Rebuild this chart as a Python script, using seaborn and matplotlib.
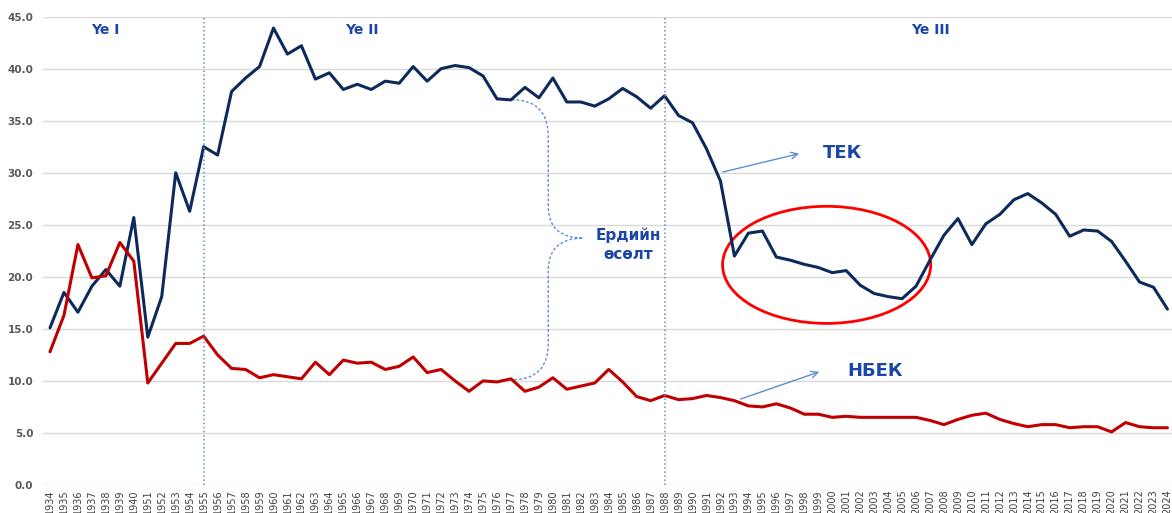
import matplotlib
matplotlib.use("Agg")
import matplotlib.pyplot as plt
import matplotlib.patches as mpatches
from matplotlib.path import Path
import pandas as pd
import seaborn as sns

sns.set_theme(style="white")
plt.rcParams["font.family"] = ["DejaVu Sans"]

# ---------------------------------------------------------------------------
# data
# ---------------------------------------------------------------------------
years = [str(y) for y in range(1934, 1941)] + [str(y) for y in range(1951, 2025)]

tek = [
    15.1, 18.5, 16.6, 19.1, 20.7, 19.1, 25.7,
    14.2, 18.1, 30.0, 26.3, 32.5, 31.7, 37.8, 39.1, 40.2, 43.9, 41.4, 42.2, 39.0,
    39.6, 38.0, 38.5, 38.0, 38.8, 38.6, 40.2, 38.8, 40.0, 40.3, 40.1, 39.3, 37.1,
    37.0, 38.2, 37.2, 39.1, 36.8, 36.8, 36.4, 37.1, 38.1, 37.3, 36.2, 37.4, 35.5,
    34.8, 32.3, 29.2, 22.0, 24.2, 24.4, 21.9, 21.6, 21.2, 20.9, 20.4, 20.6, 19.2,
    18.4, 18.1, 17.9, 19.1, 21.6, 24.0, 25.6, 23.1, 25.1, 26.0, 27.4, 28.0, 27.1,
    26.0, 23.9, 24.5, 24.4, 23.4, 21.5, 19.5, 19.0, 16.9,
]

nbek = [
    12.8, 16.3, 23.1, 19.9, 20.1, 23.3, 21.5,
    9.8, 11.7, 13.6, 13.6, 14.3, 12.5, 11.2, 11.1, 10.3, 10.6, 10.4, 10.2, 11.8,
    10.6, 12.0, 11.7, 11.8, 11.1, 11.4, 12.3, 10.8, 11.1, 10.0, 9.0, 10.0, 9.9,
    10.2, 9.0, 9.4, 10.3, 9.2, 9.5, 9.8, 11.1, 9.9, 8.5, 8.1, 8.6, 8.2,
    8.3, 8.6, 8.4, 8.1, 7.6, 7.5, 7.8, 7.4, 6.8, 6.8, 6.5, 6.6, 6.5,
    6.5, 6.5, 6.5, 6.5, 6.2, 5.8, 6.3, 6.7, 6.9, 6.3, 5.9, 5.6, 5.8,
    5.8, 5.5, 5.6, 5.6, 5.1, 6.0, 5.6, 5.5, 5.5,
]

df = pd.DataFrame({"year": years, "ТЕК": tek, "НБЕК": nbek})

# ---------------------------------------------------------------------------
# figure
# ---------------------------------------------------------------------------
fig = plt.figure(figsize=(11.72, 5.13), dpi=100)
ax = fig.add_axes([0.0367, 0.0546, 0.963, 0.913])

sns.lineplot(data=df, x="year", y="ТЕК", ax=ax, color="#0c2a5c", lw=2.2, sort=False)
sns.lineplot(data=df, x="year", y="НБЕК", ax=ax, color="#c00000", lw=2.2, sort=False)

ax.set_xlim(-0.5, 80.3)
ax.set_ylim(0, 45)
ax.set_yticks(range(0, 46, 5))
ax.set_yticklabels([f"{v:.1f}" for v in range(0, 46, 5)],
                   fontsize=7.5, fontweight="bold", color="#595959")
ax.set_xticks(range(len(years)))
ax.set_xticklabels(years, rotation=90, fontsize=7, color="#404040")
ax.tick_params(axis="x", length=0, pad=3)
ax.tick_params(axis="y", length=0, pad=7)
ax.set_xlabel("")
ax.set_ylabel("")
ax.grid(axis="y", color="#d9d9d9", lw=1)
ax.set_axisbelow(True)
for s in ax.spines.values():
    s.set_visible(False)

# period separators
blue_txt = "#1c46a6"
line_blue = "#5b8fd0"
for xi in [years.index("1955"), years.index("1988")]:
    ax.axvline(xi, color=line_blue, ls=":", lw=1.1)

for x, lab in [(3.94, "Ye I"), (22.33, "Ye II"), (63.0, "Ye III")]:
    ax.text(x, 43.7, lab, ha="center", va="center", fontsize=10,
            fontweight="bold", color=blue_txt)

# labels with arrows
ax.annotate("", xy=(53.83, 31.9), xytext=(47.96, 30.0),
            arrowprops=dict(arrowstyle="->", color=line_blue, lw=1))
ax.text(55.3, 31.9, "ТЕК", ha="left", va="center", fontsize=13,
        fontweight="bold", color=blue_txt)
ax.annotate("", xy=(55.26, 10.96), xytext=(49.25, 8.17),
            arrowprops=dict(arrowstyle="->", color=line_blue, lw=1))
ax.text(57.1, 11.0, "НБЕК", ha="left", va="center", fontsize=13,
        fontweight="bold", color=blue_txt)

# curly brace between the two series
verts = [
    (33.05, 37.02), (35.67, 37.02), (35.67, 33.5),
    (35.67, 26.8), (35.67, 23.72), (38.17, 23.72),
    (35.67, 23.72), (35.67, 20.6),
    (35.67, 13.6), (35.67, 10.1), (33.05, 10.1),
]
codes = [
    Path.MOVETO, Path.CURVE3, Path.CURVE3,
    Path.LINETO, Path.CURVE3, Path.CURVE3,
    Path.CURVE3, Path.CURVE3,
    Path.LINETO, Path.CURVE3, Path.CURVE3,
]
ax.add_patch(mpatches.PathPatch(Path(verts, codes), fill=False,
                                edgecolor=line_blue, ls=(0, (2, 1.5)), lw=1))
ax.text(41.4, 23.1, "Ердийн\nөсөлт", ha="center", va="center", fontsize=11,
        fontweight="bold", color=blue_txt, linespacing=1.3)

# highlight ellipse
ax.add_patch(mpatches.Ellipse((55.6, 21.15), 14.9, 11.25, fill=False,
                              edgecolor="#ff0000", lw=2))

fig.savefig("out.png", dpi=100)
